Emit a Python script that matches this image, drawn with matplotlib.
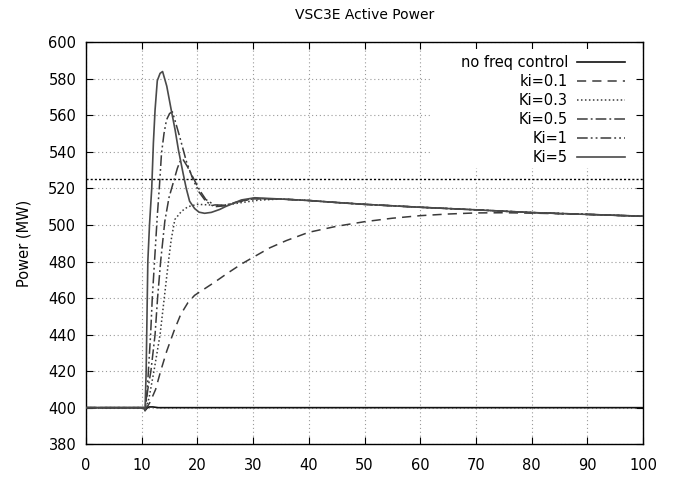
import matplotlib
matplotlib.use("Agg")
import matplotlib.pyplot as plt
from matplotlib.patches import Rectangle

plt.rcParams['font.family'] = ['DejaVu Sans']

# ---------------- data ----------------
t_nofreq = [0, 10.4, 10.6, 10.9, 11.3, 12.0, 13.0, 100]
p_nofreq = [400, 400, 398.4, 399.6, 400.4, 400.4, 400.0, 400.0]

t_ki01 = [0, 10.4, 10.6, 10.9, 11.5, 12.5, 13.4, 14.5, 15.8, 17.0, 18.3, 19.5, 21.0, 23.0,
          25.5, 28.0, 30.0, 33.0, 36.0, 40.0, 45.0, 50.0, 55.0, 60.0, 65.0, 70.0,
          75.0, 80.0, 90.0, 100.0]
p_ki01 = [400, 400, 398.6, 400, 403, 410, 420, 431, 442, 451, 457.5, 461.5, 464.5, 468.5,
          473.8, 478.8, 482.3, 487.5, 491.5, 496.0, 499.3, 501.8, 503.7, 505.1, 506.0, 506.6,
          506.7, 506.5, 505.8, 504.7]

# common slow decay after ~35 s shared by the faster controllers
t_tail = [35, 40, 45, 50, 60, 70, 80, 90, 100]
p_tail = [514.2, 513.4, 512.3, 511.3, 509.7, 508.3, 506.8, 505.8, 504.8]

t_ki03 = [0, 10.4, 10.6, 11.3, 12.2, 13.3, 14.05, 14.8, 15.3, 15.95, 17.15, 18.3, 20.0,
          22.0, 24.0, 26.0, 28.0, 31.0]
p_ki03 = [400, 400, 398.5, 405, 420, 440, 460, 480, 492, 503, 507.5, 510, 511.3,
          511.0, 510.6, 511.3, 512.3, 513.6]

t_ki05 = [0, 10.4, 10.6, 11.1, 11.65, 12.4, 12.85, 13.4, 14.15, 14.9, 15.65, 16.4, 16.85,
          17.4, 18.2, 19.3, 20.4, 21.5, 23.0, 25.0, 27.0, 30.0]
p_ki05 = [400, 400, 398.5, 410, 420, 440, 460, 480, 502, 515, 523, 531, 534.6,
          536, 532, 525.5, 519, 514, 511, 510.8, 512.5, 514.3]

t_ki1 = [0, 10.4, 10.6, 11.0, 11.2, 11.6, 11.9, 12.3, 12.8, 13.2, 13.55, 14.0, 14.45, 15.0,
         15.5, 16.0, 16.85, 18.0, 19.2, 20.3, 21.5, 23.0, 25.0, 27.0, 30.0]
p_ki1 = [400, 400, 398.5, 410, 420, 440, 460, 480, 505, 522, 539, 550, 557.5, 561,
         562, 557, 548, 535, 525, 518, 513, 510, 510.5, 512.5, 514.5]

t_ki5 = [0, 10.4, 10.6, 10.8, 10.95, 11.1, 11.4, 11.8, 12.1, 12.4, 12.8, 13.3, 13.75, 14.5,
         15.3, 16.0, 16.6, 17.45, 18.0, 18.6, 19.5, 20.3, 21.3, 22.5, 24.0, 25.0,
         27.9, 30.3]
p_ki5 = [400, 400, 398.5, 420, 450, 480, 500, 520, 545, 563, 579, 583, 584, 576,
         563, 552, 541, 528, 520, 513, 509, 507, 506.4, 506.9, 508.5, 510,
         513.7, 514.9]

labels = ["no freq control", "ki=0.1", "Ki=0.3", "Ki=0.5", "Ki=1", "Ki=5"]
ref_level = 525

x_ticks = list(range(0, 101, 10))
y_ticks = list(range(380, 601, 20))

# ---------------- figure ----------------
fig = plt.figure(figsize=(6.76, 4.79), dpi=100)
ax = fig.add_axes([86 / 676, 1 - 444.2 / 479, 557 / 676, 401.9 / 479])

ax.set_xlim(0, 100)
ax.set_ylim(380, 600)
ax.set_xticks(x_ticks)
ax.set_yticks(y_ticks)
ax.set_axisbelow(True)
ax.grid(True, color='#9a9a9a', linestyle=(0, (1, 2.5)), linewidth=0.8)
ax.tick_params(direction='in', top=True, right=True, length=5, width=0.8,
               labelsize=10.5)
ax.tick_params(axis='x', pad=10)
ax.tick_params(axis='y', pad=7)
for s in ax.spines.values():
    s.set_linewidth(1.0)
    s.set_color('black')

# opaque key area (blanks the grid behind the legend)
ax.add_patch(Rectangle(((430 - 86) / 557, (444.2 - 168) / 401.9),
                       (636 - 430) / 557, (168 - 49) / 401.9,
                       transform=ax.transAxes, facecolor='white',
                       edgecolor='none', zorder=1))

ax.axhline(ref_level, color='black', linestyle=(0, (1.5, 1.5)), linewidth=1.0, zorder=2)

lc = '#3a3a3a'
h = []
h += ax.plot(t_nofreq, p_nofreq, color='#111111', lw=1.2, ls='-', zorder=3)
h += ax.plot(t_ki01, p_ki01, color=lc, lw=1.1, ls=(0, (6, 4)), zorder=3)
h += ax.plot(t_ki03 + t_tail, p_ki03 + p_tail, color=lc, lw=1.1, ls=(0, (1, 1.6)), zorder=3)
h += ax.plot(t_ki05 + t_tail, p_ki05 + p_tail, color=lc, lw=1.1,
             ls=(0, (7, 2, 1.2, 2)), zorder=3)
h += ax.plot(t_ki1 + t_tail, p_ki1 + p_tail, color=lc, lw=1.1,
             ls=(0, (7, 2, 1.2, 2, 1.2, 2)), zorder=3)
h += ax.plot(t_ki5 + t_tail, p_ki5 + p_tail, color='#4a4a4a', lw=1.2, ls='-', zorder=3)

leg = ax.legend(h, labels, loc='upper right', frameon=False, markerfirst=False,
                bbox_to_anchor=((625 - 86) / 557, (444.2 - 55) / 401.9),
                borderpad=0, borderaxespad=0, handlelength=3.3, handletextpad=0.6,
                labelspacing=0.28, fontsize=10.5)
leg.set_zorder(4)

ax.set_title("VSC3E Active Power", fontsize=10, pad=17)
ax.set_ylabel("Power (MW)", fontsize=10.5, labelpad=12)

fig.savefig("out.png", dpi=100)
